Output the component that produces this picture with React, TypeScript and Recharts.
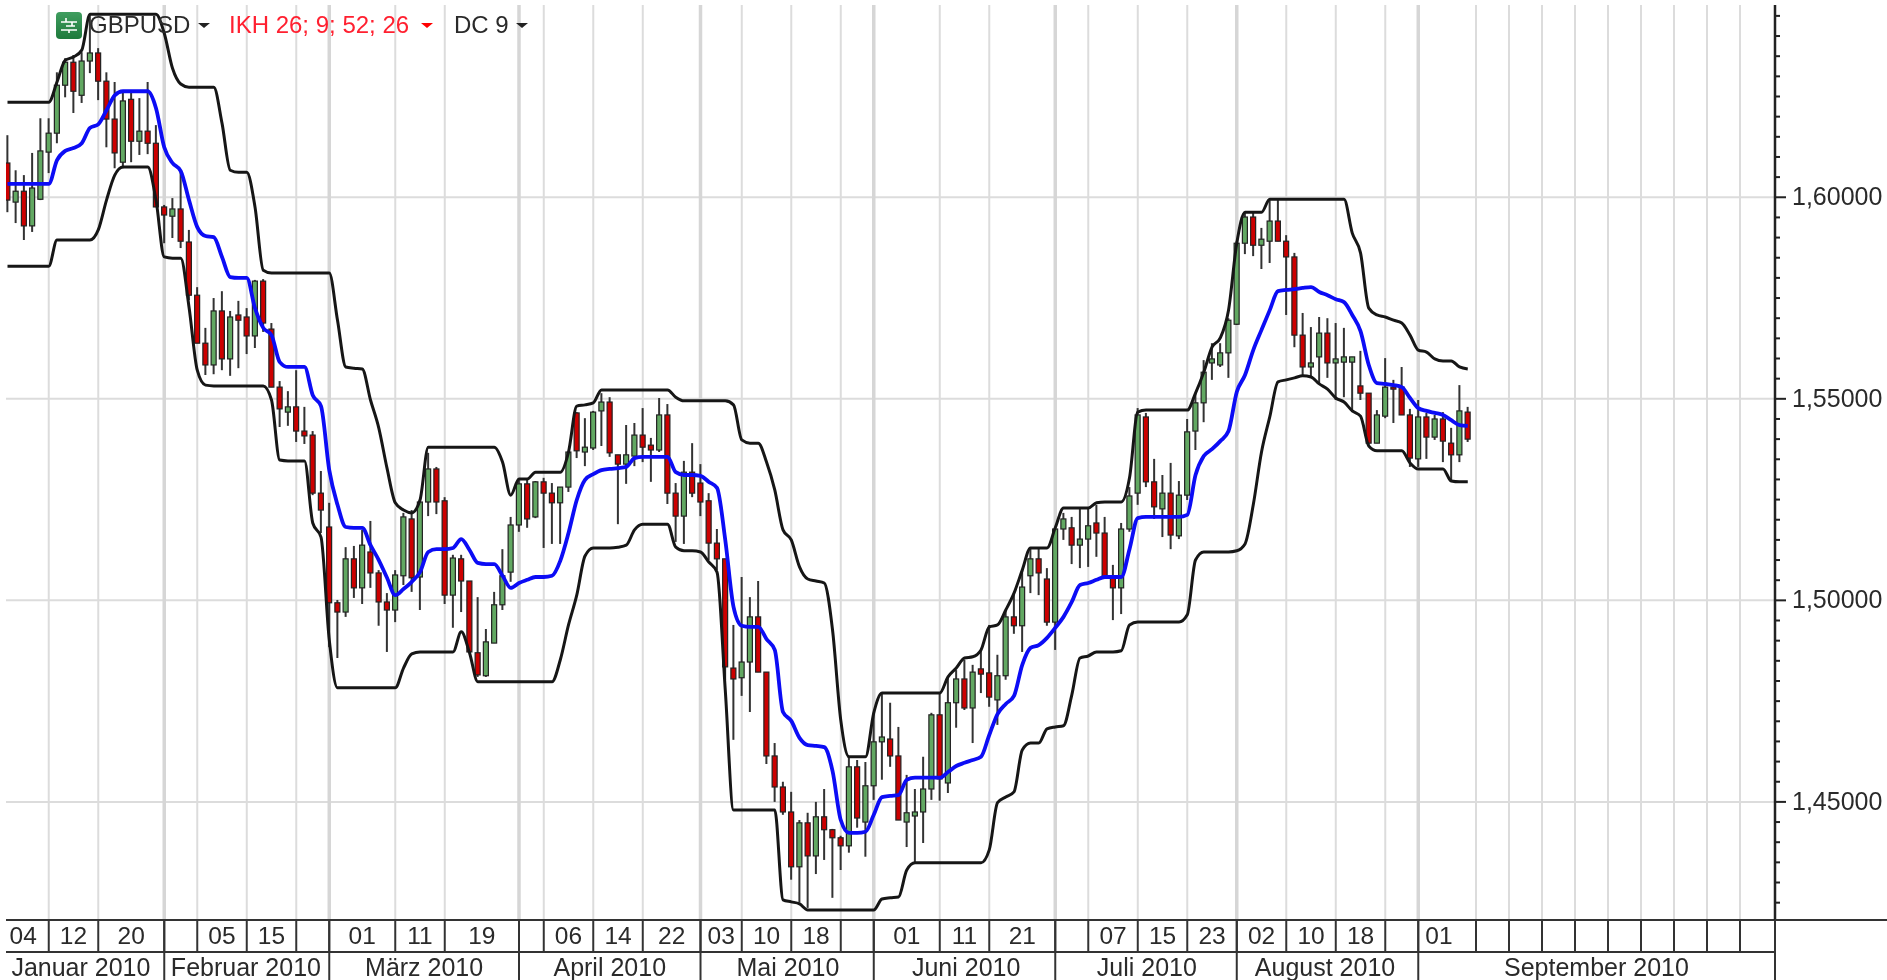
import React from "react";
import { ComposedChart, Bar, Line, XAxis, YAxis, CartesianGrid } from "recharts";

// All prices in 1/10000 (pips): candle 1 is 5 Jan 2010, one slot per weekday.
const highs = [16154,16067,16055,16110,16196,16196,16310,16345,16353,16360,
16454,16370,16310,16286,16261,16266,16246,16286,16179,15981,
15998,16067,15919,15777,15676,15750,15767,15718,15743,15725,
15795,15797,15688,15544,15519,15571,15480,15420,15321,15242,
15001,15132,15135,15175,15197,15075,15018,15075,15217,15224,
15249,15366,15331,15256,15113,15113,15048,15008,14929,15021,
15127,15207,15299,15299,15296,15304,15291,15281,15368,15467,
15452,15470,15514,15504,15361,15435,15440,15477,15403,15502,
15487,15291,15346,15390,15338,15266,15177,15103,14939,15058,
15008,15048,14822,14646,14550,14525,14455,14473,14500,14532,
14433,14416,14612,14604,14599,14721,14770,14746,14686,14567,
14532,14612,14721,14770,14810,14827,14852,14840,14877,14939,
14865,14976,15018,15075,15130,15130,15080,15177,15217,15207,
15229,15229,15237,15207,15088,15192,15281,15477,15465,15351,
15311,15341,15296,15450,15514,15596,15638,15638,15700,15891,
15961,15961,15924,15993,15993,15906,15862,15713,15678,15703,
15700,15688,15676,15604,15619,15514,15472,15601,15547,15579,
15475,15497,15465,15460,15467,15428,15534,15480];
const opens = [16085,15988,16015,15929,15995,16112,16159,16278,16335,16253,
16338,16358,16288,16194,16087,16243,16139,16164,16134,15976,
15953,15971,15889,15757,15638,15584,15718,15599,15708,15703,
15656,15792,15673,15529,15467,15480,15420,15410,15266,15182,
14994,14971,15103,15031,15120,15068,14996,14976,15061,15202,
15058,15244,15326,15247,15013,15103,15048,14870,14813,14894,
14989,15070,15187,15289,15207,15294,15266,15242,15281,15465,
15368,15378,15470,15492,15361,15338,15358,15410,15385,15373,
15460,15266,15209,15318,15291,15247,15142,15103,14832,14808,
14847,14959,14822,14614,14537,14475,14339,14448,14366,14463,
14431,14411,14391,14587,14450,14540,14649,14656,14614,14450,
14465,14475,14532,14716,14547,14746,14805,14733,14830,14820,
14753,14813,14959,14937,15061,15103,15053,14946,15177,15180,
15137,15152,15192,15167,15056,15031,15177,15266,15455,15294,
15227,15266,15160,15261,15420,15490,15589,15584,15614,15685,
15886,15951,15881,15891,15941,15891,15852,15658,15579,15604,
15663,15589,15591,15591,15532,15514,15390,15457,15529,15529,
15460,15351,15455,15405,15450,15390,15361,15467];
const closes = [15993,16015,15929,16023,16115,16159,16278,16335,16263,16338,
16358,16288,16194,16110,16239,16139,16164,16134,15976,15956,
15971,15891,15757,15638,15584,15718,15599,15703,15695,15656,
15792,15688,15529,15475,15480,15420,15408,15266,15224,14994,
14971,15103,15031,15137,15068,14996,14976,15063,15207,15056,
15244,15326,15244,15013,15105,15048,14872,14815,14897,14989,
15061,15187,15289,15202,15294,15266,15242,15281,15368,15371,
15380,15467,15492,15366,15338,15361,15410,15380,15373,15460,
15266,15209,15318,15266,15244,15142,15103,14835,14805,14847,
14959,14822,14614,14537,14475,14339,14448,14366,14463,14431,
14411,14391,14587,14460,14540,14649,14661,14614,14455,14473,
14475,14532,14716,14557,14746,14805,14733,14822,14817,14760,
14813,14959,14937,15033,15103,15068,14946,15177,15202,15137,
15152,15185,15167,15058,15031,15177,15259,15460,15294,15232,
15266,15162,15261,15418,15490,15566,15599,15614,15695,15886,
15951,15881,15896,15941,15891,15852,15658,15579,15589,15663,
15589,15599,15604,15604,15514,15390,15460,15529,15524,15460,
15353,15455,15405,15450,15395,15361,15470,15400];
const lows = [15963,15936,15894,15914,15993,16060,16134,16248,16209,16234,
16308,16241,16124,16072,16072,16087,16105,16107,15976,15886,
15899,15874,15745,15638,15559,15561,15571,15557,15576,15611,
15626,15666,15529,15430,15433,15393,15388,15261,15167,14884,
14857,14959,15006,14991,15031,14937,14872,14946,15038,15021,
14976,15209,15214,14991,14932,14971,14870,14810,14810,14894,
14976,15046,15170,15180,15204,15130,15140,15140,15269,15353,
15333,15373,15383,15356,15189,15289,15333,15343,15294,15368,
15239,15145,15140,15256,15209,15100,15075,14803,14654,14763,
14723,14822,14594,14500,14468,14307,14250,14237,14321,14356,
14262,14331,14374,14436,14364,14505,14555,14587,14455,14388,
14349,14398,14505,14503,14522,14684,14728,14646,14770,14736,
14691,14803,14917,14872,15018,15013,14937,14877,15150,15090,
15080,15083,15108,15058,14951,14966,15170,15237,15281,15202,
15157,15127,15152,15249,15373,15442,15547,15579,15552,15683,
15859,15854,15822,15837,15891,15708,15628,15559,15554,15539,
15552,15497,15504,15467,15497,15385,15390,15452,15440,15460,
15331,15331,15351,15398,15343,15294,15343,15393];
const upper = [16236,16236,16236,16236,16236,16236,16286,16340,16348,16365,
16454,16454,16454,16454,16454,16454,16454,16454,16454,16407,
16320,16281,16273,16273,16273,16273,16184,16067,16062,16062,
15976,15819,15812,15812,15812,15812,15812,15812,15812,15812,
15695,15579,15576,15574,15497,15428,15328,15242,15224,15217,
15249,15380,15380,15380,15380,15380,15380,15380,15380,15380,
15343,15261,15301,15301,15318,15318,15318,15318,15368,15482,
15485,15490,15522,15522,15522,15522,15522,15522,15522,15522,
15522,15504,15495,15495,15495,15495,15495,15495,15485,15398,
15390,15390,15343,15274,15175,15150,15083,15053,15048,15043,
14927,14703,14612,14612,14612,14721,14770,14770,14770,14770,
14770,14770,14770,14770,14810,14832,14857,14860,14877,14934,
14939,14976,15018,15075,15130,15130,15130,15180,15229,15229,
15229,15229,15242,15244,15244,15244,15304,15467,15472,15472,
15472,15472,15472,15472,15514,15566,15628,15651,15720,15886,
15963,15963,15963,15995,15995,15995,15995,15995,15995,15995,
15995,15995,15995,15911,15862,15725,15708,15703,15695,15688,
15658,15621,15616,15599,15594,15594,15579,15574];
const lower = [15829,15829,15829,15829,15829,15829,15894,15894,15894,15894,
15894,15919,15993,16055,16075,16075,16075,16075,15993,15852,
15849,15849,15728,15571,15534,15532,15532,15532,15532,15532,
15532,15532,15497,15348,15346,15346,15346,15192,15157,14902,
14783,14783,14783,14783,14783,14783,14783,14783,14832,14867,
14872,14872,14872,14872,14872,14922,14870,14798,14798,14798,
14798,14798,14798,14798,14798,14798,14798,14852,14939,15013,
15110,15130,15130,15130,15132,15137,15175,15189,15189,15189,
15189,15132,15123,15123,15120,15095,15070,14778,14480,14480,
14480,14480,14480,14480,14257,14252,14247,14232,14232,14232,
14232,14232,14232,14232,14232,14232,14259,14262,14264,14331,
14349,14349,14349,14349,14349,14349,14349,14349,14349,14381,
14498,14512,14525,14629,14646,14646,14681,14686,14689,14765,
14857,14862,14872,14872,14872,14875,14939,14946,14946,14946,
14946,14946,14946,14964,15100,15120,15120,15120,15120,15123,
15140,15237,15368,15455,15542,15547,15552,15557,15554,15537,
15524,15502,15492,15470,15457,15383,15371,15371,15371,15371,
15341,15326,15326,15326,15326,15296,15294,15294];
const middle = [16033,16033,16033,16033,16033,16033,16092,16115,16122,16134,
16172,16181,16216,16253,16263,16263,16263,16263,16221,16124,
16085,16065,15993,15926,15904,15901,15852,15802,15800,15800,
15725,15676,15658,15591,15579,15579,15579,15509,15482,15323,
15237,15182,15180,15180,15137,15100,15056,15013,15028,15046,
15070,15120,15127,15127,15130,15152,15125,15093,15090,15090,
15061,15031,15043,15051,15058,15058,15061,15098,15167,15249,
15299,15313,15323,15326,15328,15331,15353,15356,15356,15356,
15356,15318,15311,15311,15309,15294,15279,15150,14984,14937,
14934,14934,14904,14877,14723,14701,14659,14641,14639,14636,
14577,14455,14423,14423,14426,14468,14512,14515,14517,14555,
14560,14560,14560,14560,14574,14589,14597,14604,14612,14666,
14718,14743,14763,14840,14882,14889,14907,14932,14959,14996,
15038,15043,15051,15058,15058,15058,15127,15204,15207,15207,
15207,15207,15207,15212,15311,15358,15375,15395,15420,15517,
15559,15621,15671,15720,15767,15770,15772,15775,15777,15765,
15757,15747,15740,15708,15668,15584,15539,15537,15534,15529,
15502,15477,15470,15465,15460,15447,15435,15433];

const dayGridTicks = [6,12,20,24,30,36,40,48,54,63,66,72,78,85,90,96,102,106,114,120,128,132,138,144,150,156,162,168,172,179,183,187,191,195,199,203,207,211];
const monthGridTicks = [20,40,63,85,106,128,150,172];
const dayLabelPos = [2.9,9,16,27,33,44,51,58.5,69,75,81.5,87.5,93,99,110,117,124,135,141,147,153,159,165,174.5];
const dayLabels = ["04","12","20","05","15","01","11","19","06","14","22","03","10","18","01","11","21","07","15","23","02","10","18","01"];
const monthLabelPos = [9.9,29.9,51.5,74,95.6,117.2,139.1,160.7,193.6];
const monthLabels = ["Januar 2010","Februar 2010","März 2010","April 2010","Mai 2010","Juni 2010","Juli 2010","August 2010","September 2010"];
const majorPrices = [1.45,1.5,1.55,1.6];
const priceTicks = [1.425,1.43,1.435,1.44,1.445,1.45,1.455,1.46,1.465,1.47,1.475,1.48,1.485,1.49,1.495,1.5,1.505,1.51,1.515,1.52,1.525,1.53,1.535,1.54,1.545,1.55,1.555,1.56,1.565,1.57,1.575,1.58,1.585,1.59,1.595,1.6,1.605,1.61,1.615,1.62,1.625,1.63,1.635,1.64,1.645];
const X_END = 215.24;

const FONT = '"Liberation Sans", Arial, sans-serif';
const INK = "#2a2a2a";

const rows = highs.map((h, k) => ({
  i: k + 1,
  range: [lows[k] / 1e4, h / 1e4],
  o: opens[k] / 1e4,
  c: closes[k] / 1e4,
  upper: upper[k] / 1e4,
  middle: middle[k] / 1e4,
  lower: lower[k] / 1e4,
}));

function Candle(props: any) {
  const { x, y, width, height, payload } = props;
  if (!payload) return null;
  const [lo, hi] = payload.range;
  const perUnit = Math.abs(height) / (hi - lo || 1);
  const top = y + (hi - Math.max(payload.o, payload.c)) * perUnit;
  const bot = y + (hi - Math.min(payload.o, payload.c)) * perUnit;
  const cx = x + width / 2;
  const up = payload.c >= payload.o;
  return (
    <g>
      <line x1={cx} x2={cx} y1={y} y2={y + Math.abs(height)} stroke="#333" strokeWidth={2} />
      <rect x={cx - 2.5} width={5} y={top} height={Math.max(bot - top, 1)} fill={up ? "#62a862" : "#cc0000"} stroke="#222" strokeWidth={1.2} />
    </g>
  );
}

function DayTick(props: any) {
  const { x, y, payload } = props;
  const v = payload.value;
  const li = dayLabelPos.indexOf(v);
  if (li >= 0) {
    return <text x={x} y={y + 24} textAnchor="middle" fontFamily={FONT} fontSize={24.5} fill={INK}>{dayLabels[li]}</text>;
  }
  if (v === X_END) {
    return <line x1={x} x2={x + 112} y1={y} y2={y} stroke="#333" strokeWidth={2} />;
  }
  return <line x1={x} x2={x} y1={y} y2={y + 32} stroke="#333" strokeWidth={2} />;
}

function MonthTick(props: any) {
  const { x, y, payload } = props;
  const v = payload.value;
  const li = monthLabelPos.indexOf(v);
  if (li >= 0) {
    return <text x={x} y={y + 24} textAnchor="middle" fontFamily={FONT} fontSize={25} fill={INK}>{monthLabels[li]}</text>;
  }
  return <line x1={x} x2={x} y1={y - 32} y2={y + 30} stroke="#333" strokeWidth={2} />;
}

function PriceTick(props: any) {
  const { x, y, payload } = props;
  const v = payload.value;
  const major = majorPrices.some((m) => Math.abs(m - v) < 1e-6);
  return (
    <g>
      <line x1={x} x2={x + (major ? 11 : 5)} y1={y} y2={y} stroke="#222" strokeWidth={2} />
      {major ? (
        <text x={x + 17} y={y + 8} fontFamily={FONT} fontSize={25} fill={INK}>{v.toFixed(5).replace(".", ",")}</text>
      ) : null}
    </g>
  );
}

const Arrow = ({ left, color }: { left: number; color: string }) => (
  <div style={{ position: "absolute", left, top: 23, width: 0, height: 0, borderLeft: "6px solid transparent", borderRight: "6px solid transparent", borderTop: `5px solid ${color}` }} />
);

const Label = ({ left, color, children }: any) => (
  <div style={{ position: "absolute", left, top: 11, fontFamily: FONT, fontSize: 24, lineHeight: "28px", color, whiteSpace: "pre" }}>{children}</div>
);

export default function App() {
  return (
    <div style={{ position: "absolute", left: 0, top: 0, width: 1887, height: 980, background: "#fff", overflow: "hidden", filter: "blur(0.5px)" }}>
      <ComposedChart width={1887} height={980} data={rows} margin={{ top: 5, left: 6, right: 0, bottom: 0 }} barGap={0}>
        <CartesianGrid horizontalValues={majorPrices} verticalValues={dayGridTicks} stroke="#dcdcdc" strokeWidth={2} />
        <CartesianGrid horizontal={false} verticalValues={monthGridTicks} stroke="#d6d6d6" strokeWidth={3.5} />
        <XAxis dataKey="i" type="number" domain={[0.818, X_END]} allowDataOverflow ticks={[...dayGridTicks, ...dayLabelPos, X_END].sort((a, b) => a - b)} interval={0} height={32} tickLine={false} tickSize={0} tickMargin={0} tick={<DayTick />} axisLine={{ stroke: "#333", strokeWidth: 2 }} />
        <XAxis xAxisId="m" dataKey="i" type="number" domain={[0.818, X_END]} allowDataOverflow ticks={[...monthGridTicks, ...monthLabelPos, X_END].sort((a, b) => a - b)} interval={0} height={28} tickLine={false} tickSize={0} tickMargin={0} tick={<MonthTick />} axisLine={{ stroke: "#333", strokeWidth: 2 }} />
        <YAxis orientation="right" width={112} type="number" domain={[1.4207, 1.6477]} allowDataOverflow ticks={priceTicks} interval={0} tickLine={false} tickSize={0} tickMargin={0} tick={<PriceTick />} axisLine={{ stroke: "#222", strokeWidth: 2.5 }} />
        <Bar dataKey="range" barSize={6} shape={<Candle />} isAnimationActive={false} />
        <Line dataKey="upper" type="monotone" stroke="#161616" strokeWidth={3} dot={false} isAnimationActive={false} />
        <Line dataKey="lower" type="monotone" stroke="#161616" strokeWidth={3} dot={false} isAnimationActive={false} />
        <Line dataKey="middle" type="monotone" stroke="#0c0cf5" strokeWidth={3.8} dot={false} isAnimationActive={false} />
      </ComposedChart>
      <div style={{ position: "absolute", left: 56, top: 12, width: 26, height: 27, borderRadius: 4, background: "linear-gradient(#3f9d5f,#1e7a3c)" }}>
        <svg width={26} height={27}>
          <path d="M5 10H21M5 18H21M10 6V10M16 10V14M10 14H19M13 18V21" stroke="#fff" strokeWidth={1.6} fill="none" />
        </svg>
      </div>
      <Label left={89} color={INK}>GBPUSD</Label>
      <Arrow left={198} color="#222" />
      <Label left={229} color="#ff2030">IKH 26; 9; 52; 26</Label>
      <Arrow left={421} color="#ff0000" />
      <Label left={454} color={INK}>DC 9</Label>
      <Arrow left={516} color="#222" />
    </div>
  );
}
